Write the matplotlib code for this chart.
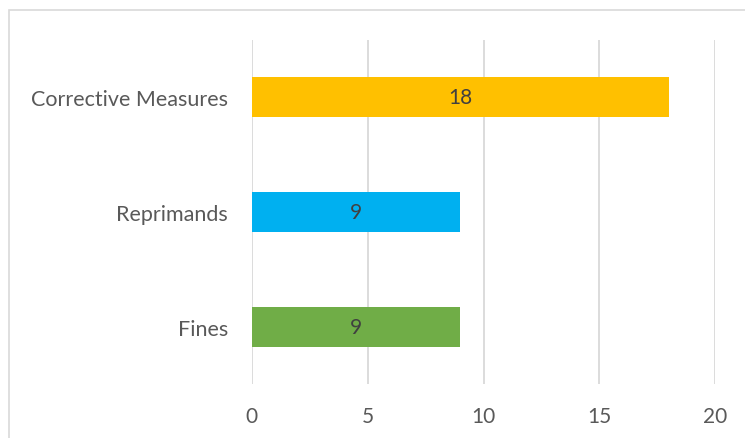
import matplotlib
matplotlib.use("Agg")
import matplotlib.pyplot as plt
from matplotlib.patches import Rectangle

categories = ["Fines", "Reprimands", "Corrective Measures"]
values = [9, 9, 18]
colors = ["#70AD47", "#00B0F0", "#FFC000"]
xticks = [0, 5, 10, 15, 20]

plt.rcParams["font.family"] = ["Lato", "DejaVu Sans"]
text_color = "#595959"

fig = plt.figure(figsize=(7.45, 4.39), dpi=100)
ax = fig.add_axes([0.338, 0.123, 0.622, 0.784])

y = range(len(categories))
bars = ax.barh(y, values, height=0.35, color=colors, zorder=3)
for bar, v in zip(bars, values):
    ax.text(v / 2, bar.get_y() + bar.get_height() / 2, str(v),
            ha="center", va="center", color="#404040", fontsize=15, zorder=4)

ax.set_xlim(0, 20)
ax.set_ylim(-0.5, 2.5)
ax.set_xticks(xticks)
ax.set_yticks(list(y))
ax.set_yticklabels(categories)
ax.tick_params(axis="x", length=0, colors=text_color, labelsize=15, pad=16)
ax.tick_params(axis="y", length=0, colors=text_color, labelsize=15.5, pad=17)
ax.grid(axis="x", color="#D9D9D9", linewidth=1.3, zorder=0)
for spine in ax.spines.values():
    spine.set_visible(False)

# chart-area border (right and bottom edges fall outside the image)
fig.patches.append(Rectangle((0.012, -0.05), 1.1, 1.025, transform=fig.transFigure,
                             fill=False, edgecolor="#D9D9D9", linewidth=1.2))

fig.savefig("out.png", dpi=100)
